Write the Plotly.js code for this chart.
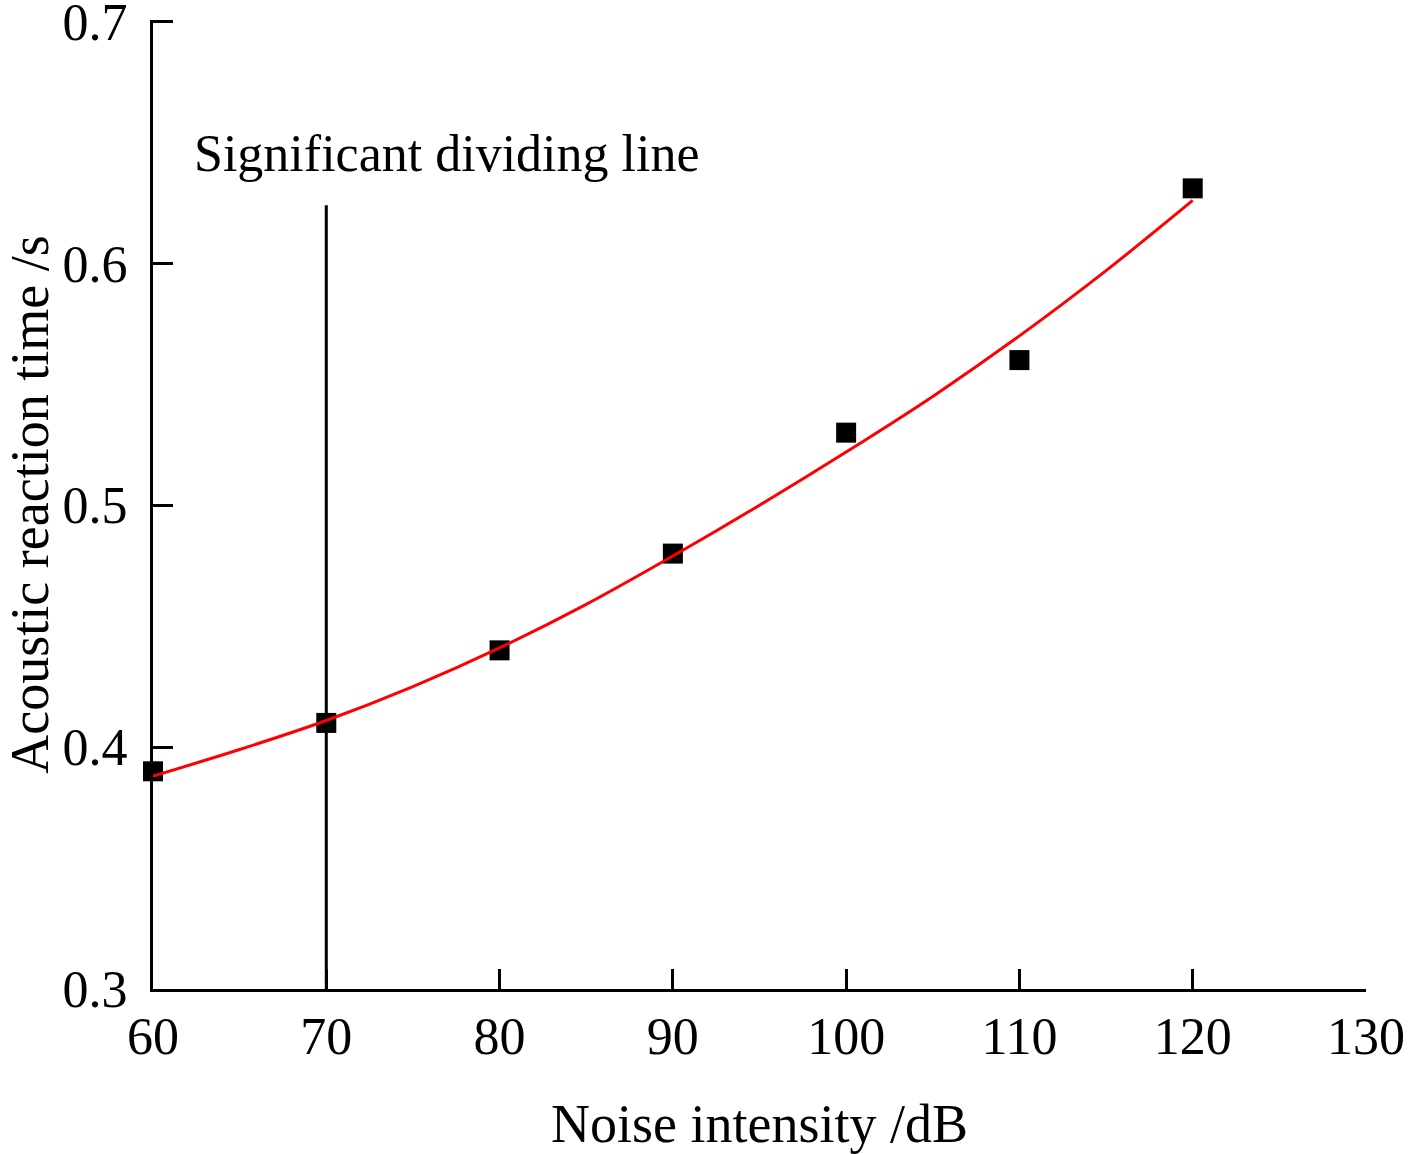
<!DOCTYPE html>
<html>
<head>
<meta charset="utf-8">
<script src="https://cdn.plot.ly/plotly-3.0.1.min.js"></script>
<style>html,body{margin:0;padding:0;background:#fff;}#chart{width:1408px;height:1154px;}</style>
</head>
<body>
<div id="chart"></div>
<script>
// Measured points
const noiseDb = [60, 70, 80, 90, 100, 110, 120];
const reactionTime = [0.39, 0.41, 0.44, 0.48, 0.53, 0.56, 0.631];

// Fitted curve
const fitX = [60, 65, 70, 75, 80, 85, 90, 95, 100, 105, 110, 115, 120];
const fitY = [0.388, 0.399, 0.411, 0.425, 0.441, 0.459, 0.479, 0.500, 0.522, 0.545, 0.570, 0.597, 0.626];

// Significant dividing line
const dividerX = [70, 70];
const dividerY = [0.3, 0.624];
const dividerLabel = "Significant dividing line";
const dividerLabelPos = {x: 76.95, y: 0.6455};

const xTicks = [60, 70, 80, 90, 100, 110, 120, 130];
const yTicks = [0.3, 0.4, 0.5, 0.6, 0.7];

const FONT = "'Liberation Serif', 'Times New Roman', serif";

const traces = [
  {x: dividerX, y: dividerY, mode: "lines", line: {color: "#000", width: 3}, hoverinfo: "skip", showlegend: false, cliponaxis: false},
  {x: noiseDb, y: reactionTime, mode: "markers", marker: {symbol: "square", size: 20, color: "#000"}, showlegend: false, cliponaxis: false},
  {x: fitX, y: fitY, mode: "lines", line: {color: "#ff0000", width: 3, shape: "spline", smoothing: 1}, showlegend: false, cliponaxis: false}
];

const layout = {
  width: 1408, height: 1154,
  margin: {l: 153, r: 42, t: 20, b: 165},
  paper_bgcolor: "#fff", plot_bgcolor: "#fff",
  font: {family: FONT, color: "#000", size: 52},
  showlegend: false,
  xaxis: {
    range: [60, 130], tickvals: xTicks, ticktext: xTicks.map(String),
    ticks: "inside", ticklen: 20, tickwidth: 3, tickcolor: "#000",
    showline: true, linewidth: 3, linecolor: "#000", showgrid: false, zeroline: false,
    tickfont: {family: FONT, size: 52, color: "#000"},
    ticklabeloverflow: "allow",
    title: {text: "Noise intensity /dB", font: {family: FONT, size: 54, color: "#000"}, standoff: 40}
  },
  yaxis: {
    range: [0.3, 0.7006], tickvals: yTicks, ticktext: yTicks.map(v => v.toFixed(1)),
    ticks: "inside", ticklen: 20, tickwidth: 3, tickcolor: "#000",
    showline: true, linewidth: 3, linecolor: "#000", showgrid: false, zeroline: false,
    tickfont: {family: FONT, size: 52, color: "#000"},
    ticklabeloverflow: "allow", ticklabelstandoff: 12,
    title: {text: "Acoustic reaction time /s", font: {family: FONT, size: 54, color: "#000"}, standoff: 2}
  },
  annotations: [{
    x: dividerLabelPos.x, y: dividerLabelPos.y, xref: "x", yref: "y",
    text: dividerLabel, showarrow: false,
    font: {family: FONT, size: 52, color: "#000"}
  }]
};

Plotly.newPlot("chart", traces, layout, {staticPlot: true, displayModeBar: false});
</script>
</body>
</html>
